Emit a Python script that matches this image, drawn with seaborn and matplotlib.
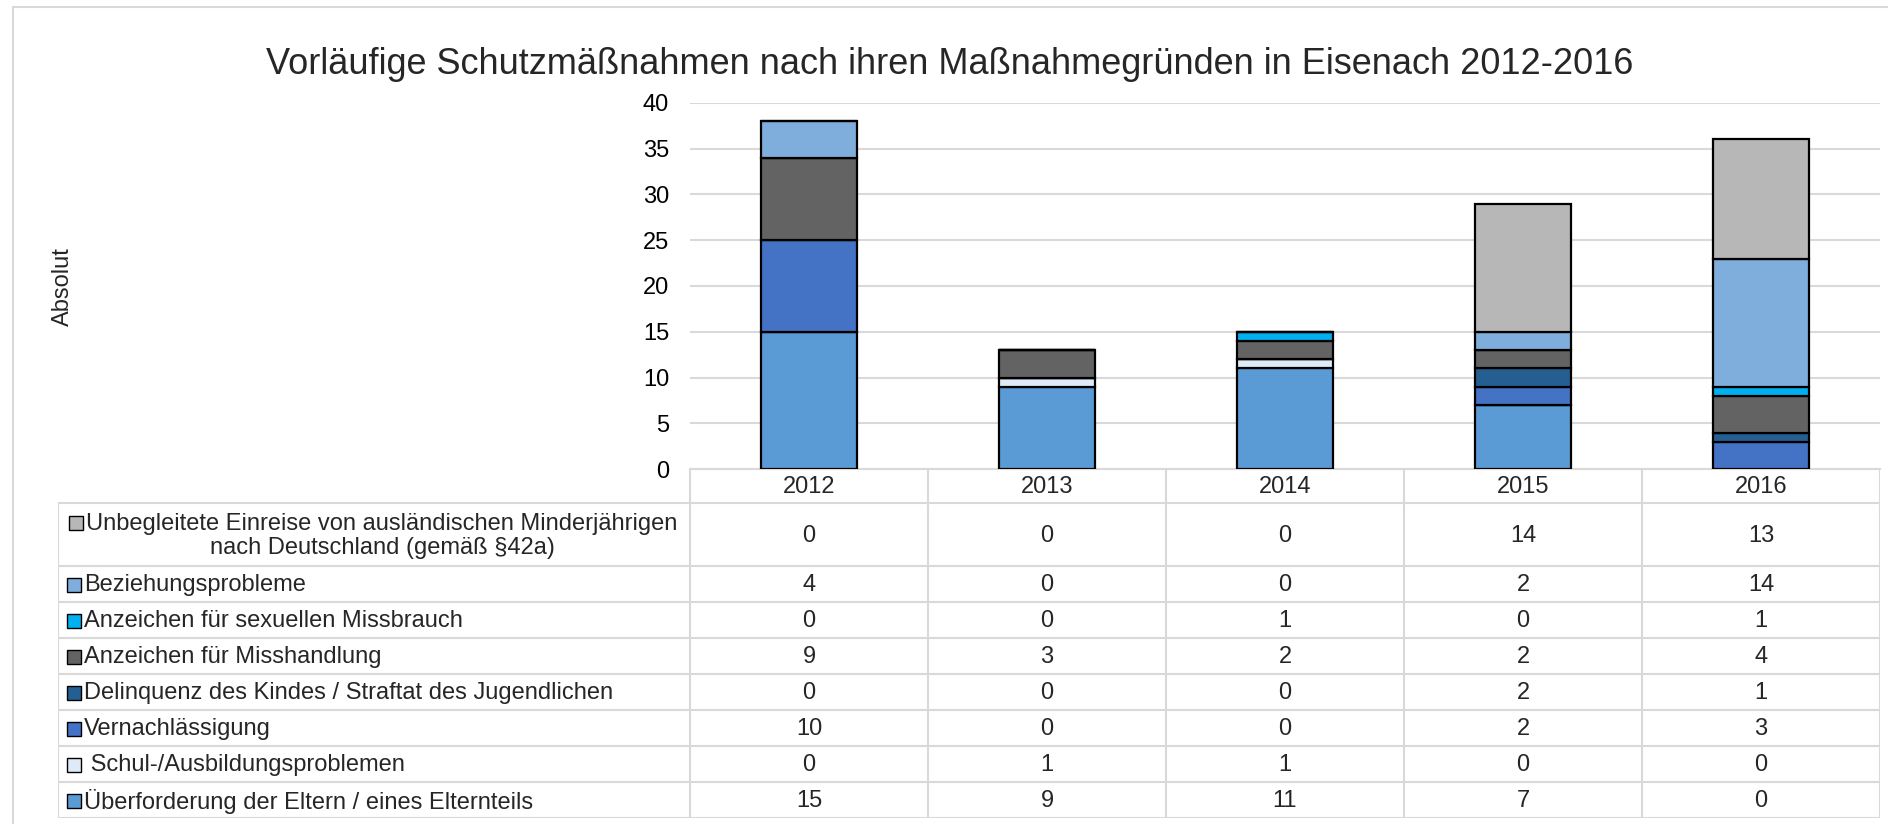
import numpy as np
import pandas as pd
import matplotlib
matplotlib.use("Agg")
import matplotlib.pyplot as plt
import seaborn as sns
from matplotlib.patches import Rectangle
from matplotlib.lines import Line2D

# ---------------- data ----------------
years = ["2012", "2013", "2014", "2015", "2016"]

# stacked bottom -> top
ueberforderung = [15, 9, 11, 7, 0]
schul = [0, 1, 1, 0, 0]
vernachlaessigung = [10, 0, 0, 2, 3]
delinquenz = [0, 0, 0, 2, 1]
misshandlung = [9, 3, 2, 2, 4]
sexuell = [0, 0, 1, 0, 1]
beziehung = [4, 0, 0, 2, 14]
unbegleitet = [0, 0, 0, 14, 13]

labels = [
    "Überforderung der Eltern / eines Elternteils",
    " Schul-/Ausbildungsproblemen",
    "Vernachlässigung",
    "Delinquenz des Kindes / Straftat des Jugendlichen",
    "Anzeichen für Misshandlung",
    "Anzeichen für sexuellen Missbrauch",
    "Beziehungsprobleme",
    "Unbegleitete Einreise von ausländischen Minderjährigen\nnach Deutschland (gemäß §42a)",
]
series = [ueberforderung, schul, vernachlaessigung, delinquenz,
          misshandlung, sexuell, beziehung, unbegleitet]
colors = ["#5B9BD5", "#DEEBF7", "#4472C4", "#255E91",
          "#636363", "#00B0F0", "#7FAEDC", "#B7B7B7"]
y_ticks = [0, 5, 10, 15, 20, 25, 30, 35, 40]

title = "Vorläufige Schutzmäßnahmen nach ihren Maßnahmegründen in Eisenach 2012-2016"
ylabel = "Absolut"

# ---------------- style ----------------
sns.set_style("white")
plt.rcParams["font.family"] = ["Liberation Sans", "DejaVu Sans"]
FS = 17
GRID = "#D9D9D9"

W, H = 1888, 824
fig = plt.figure(figsize=(W / 100, H / 100), dpi=100)
fig.patch.set_facecolor("white")

def fx(x):
    return x / W

def fy(y):
    return 1 - y / H

# plot area (pixels)
PX0, PX1 = 690, 1880
PY0, PY1 = 102.7, 469.3
ax = fig.add_axes([fx(PX0), fy(PY1), fx(PX1 - PX0), (PY1 - PY0) / H])

bottom = np.zeros(len(years))
for vals, col in zip(series, colors):
    sns.barplot(x=years, y=vals, order=years, color=col, saturation=1,
                width=0.4, edgecolor="black", linewidth=1.6,
                errorbar=None, bottom=bottom.copy(), ax=ax, zorder=3)
    bottom += np.array(vals)

ax.set_xlim(-0.5, len(years) - 0.5)
ax.set_ylim(0, 40)
ax.set_yticks(y_ticks)
ax.set_yticklabels([str(t) for t in y_ticks], fontsize=FS, color="black")
ax.tick_params(axis="y", length=0, pad=15)
ax.tick_params(axis="x", length=0, labelbottom=False)
ax.set_xlabel("")
ax.set_ylabel("")
ax.yaxis.grid(True, color=GRID, linewidth=1.5, zorder=0)
ax.set_axisbelow(True)
for s in ["left", "right", "top"]:
    ax.spines[s].set_visible(False)
ax.spines["bottom"].set_color(GRID)
ax.spines["bottom"].set_linewidth(1.5)

# ---------------- data table ----------------
TX0 = 58
col_px = (PX1 - PX0) / len(years)
label_w = (PX0 - TX0) / col_px          # label column width in column units
xl = -0.5 - label_w
xr = len(years) - 0.5
TY0, TY1 = PY1, 818.3
tax = fig.add_axes([fx(TX0), fy(TY1), fx(PX1 - TX0), (TY1 - TY0) / H])
tax.set_xlim(xl, xr)
tax.set_ylim(TY1 - TY0, 0)
tax.axis("off")

header_h = 34
row_hs = [63] + [36] * 7
edges = [header_h]
for h in row_hs:
    edges.append(edges[-1] + h)

lkw = dict(color=GRID, linewidth=1.5, solid_capstyle="butt")
tax.plot([-0.5, xr], [0, 0], **lkw)
for e in edges:
    tax.plot([xl, xr], [e, e], **lkw)
tax.plot([xl, xl], [header_h, edges[-1]], **lkw)
for i in range(len(years) + 1):
    xv = i - 0.5
    tax.plot([xv, xv], [0, edges[-1]], **lkw)

for i, yr in enumerate(years):
    tax.text(i, header_h / 2 + 1, yr, ha="center", va="center", fontsize=FS)

row_order = list(range(len(series)))[::-1]   # table top -> bottom
mk_w = 14 / col_px
mk_h = 14
mk_x = xl + 9 / col_px
txt_x = xl + 26 / col_px
uneb_text = None
for r, si in enumerate(row_order):
    yc = (edges[r] + edges[r + 1]) / 2
    for i, v in enumerate(series[si]):
        tax.text(i, yc + 1, str(v), ha="center", va="center", fontsize=FS)
    if "\n" in labels[si]:
        uneb_text = tax.text((xl - 0.5) / 2 + 8 / col_px, yc + 1, labels[si],
                             ha="center", va="center", fontsize=FS,
                             multialignment="center", linespacing=1.15)
        uneb_y = yc - 12.5
        uneb_col = colors[si]
    else:
        tax.add_patch(Rectangle((mk_x, yc - mk_h / 2 + 1), mk_w, mk_h,
                                facecolor=colors[si], edgecolor="black",
                                linewidth=1.0))
        tax.text(txt_x, yc + 1, labels[si], ha="left", va="center", fontsize=FS)

# place marker before the first line of the wrapped label
fig.canvas.draw()
bb = uneb_text.get_window_extent(renderer=fig.canvas.get_renderer())
x_left = tax.transData.inverted().transform((bb.x0, bb.y0))[0]
tax.add_patch(Rectangle((x_left - 17 / col_px, uneb_y - mk_h / 2 + 1), mk_w, mk_h,
                        facecolor=uneb_col, edgecolor="black", linewidth=1.0))

# ---------------- titles & frame ----------------
fig.text(fx(950), fy(64), title, ha="center", va="center", fontsize=26)
fig.text(fx(63), fy(287), ylabel, ha="center", va="center", rotation=90, fontsize=FS)

fig.add_artist(Line2D([fx(13), fx(13)], [fy(7), 0], color=GRID, linewidth=1.5))
fig.add_artist(Line2D([fx(13), 1], [fy(7), fy(7)], color=GRID, linewidth=1.5))

fig.savefig("out.png", dpi=100, facecolor="white")
